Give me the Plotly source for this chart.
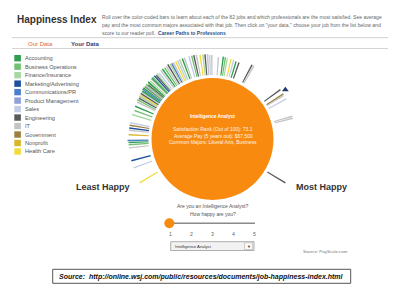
import plotly.graph_objects as go

# ---------------- data ----------------
sectors = ["Accounting", "Business Operations", "Finance/Insurance", "Marketing/Advertising",
           "Communications/PR", "Product Management", "Sales", "Engineering", "IT",
           "Government", "Nonprofit", "Health Care"]
sector_codes = ["ACC", "BO", "FI", "MKT", "COM", "PM", "SAL", "ENG", "IT", "GOV", "NP", "HC"]
sector_colors = ["#2e9e4f", "#72c172", "#a8d8a2", "#1c4f9c", "#4c7fc9", "#8ea2d8",
                 "#c3cce8", "#5a5a5a", "#c4c4c4", "#9b8040", "#d6b62a", "#f2dc3c"]

job_scores = [0.0, 4.5, 6.6, 10.3, 11.2, 11.8, 12.4, 14.0, 15.3, 15.9, 16.7, 17.4, 19.8, 21.1,
              22.3, 23.6, 24.2, 24.8, 25.2, 25.5, 25.8, 26.2, 26.7, 26.9, 27.1, 27.5, 27.9, 28.3,
              28.5, 28.7, 29.1, 29.5, 29.8, 30.0, 30.6, 31.2, 31.5, 31.8, 32.4, 32.9, 33.3, 33.9,
              34.7, 35.3, 36.0, 36.6, 37.2, 37.8, 38.3, 38.8, 39.5, 40.1, 40.7, 41.5, 42.1, 43.4,
              44.2, 44.8, 45.5, 46.5, 47.3, 47.9, 48.6, 49.2, 49.8, 51.7, 53.1, 53.7, 54.3, 55.4,
              56.2, 57.0, 57.9, 61.6, 62.2, 72.3, 73.8, 74.2, 75.4, 80.6, 81.2, 100.0]
job_sectors = ["HC", "SAL", "MKT", "IT", "BO", "ACC", "COM", "NP", "IT", "MKT", "GOV", "SAL",
               "FI", "BO", "ACC", "IT", "BO", "ENG", "FI", "IT", "HC", "ENG", "SAL", "BO",
               "ACC", "COM", "ACC", "FI", "ENG", "IT", "BO", "ENG", "FI", "ACC", "FI", "IT",
               "ACC", "BO", "MKT", "ENG", "FI", "SAL", "IT", "ACC", "BO", "IT", "ENG", "FI",
               "COM", "IT", "HC", "SAL", "FI", "ACC", "IT", "SAL", "BO", "ENG", "IT", "HC",
               "FI", "ENG", "IT", "SAL", "IT", "IT", "ACC", "BO", "FI", "HC", "SAL", "ACC",
               "ENG", "ENG", "IT", "ENG", "GOV", "IT", "SAL", "IT", "IT", "ENG"]
bar_len = [21, 20, 20, 20, 20, 20, 21, 20, 20, 20, 20, 20, 20, 19, 20, 20, 21, 20, 21, 21,
           20, 21, 21, 21, 21, 22, 22, 22, 21, 21, 22, 20, 21, 22, 21, 22, 22, 22, 22, 21,
           22, 21, 22, 22, 22, 22, 23, 22, 22, 22, 22, 22, 22, 22, 22, 22, 22, 22, 22, 21,
           21, 21, 21, 20, 20, 18, 19, 19, 18, 18, 18, 17, 17, 20, 20, 20, 20, 19, 20, 19,
           19, 21]

selected_job = "Intelligence Analyst"
selected_score = 73.1
selected_pay = "$67,500"
selected_majors = "Liberal Arts, Business"
slider_ticks = ["1", "2", "3", "4", "5"]

# ---------------- geometry / style ----------------
W, H = 400, 300
CX, CY = 212.5, 139.0
R_POLAR = 90
R_CIRCLE = 61
BAR_BASE = 64
DEG_PER_POINT = 2.42
FONT = "Liberation Sans, Arial, sans-serif"
ORANGE = "#F88A10"


def px(x):
    return x / W


def py(y):
    return 1 - y / H


color_map = dict(zip(sector_codes, sector_colors))

fig = go.Figure()
fig.add_trace(go.Barpolar(
    r=bar_len,
    theta=[s * DEG_PER_POINT for s in job_scores],
    base=BAR_BASE,
    width=1.0,
    marker=dict(color=[color_map[s] for s in job_sectors], line=dict(width=0)),
    hoverinfo="skip", showlegend=False,
))
fig.add_trace(go.Scatterpolar(
    r=[88], theta=[selected_score * DEG_PER_POINT], mode="markers",
    marker=dict(symbol="triangle-up", size=6, color="#1f3a6e"),
    hoverinfo="skip", showlegend=False,
))

shapes = []
annotations = []

# big orange circle
shapes.append(dict(type="circle", xref="paper", yref="paper",
                   x0=px(CX - R_CIRCLE), x1=px(CX + R_CIRCLE),
                   y0=py(CY + R_CIRCLE), y1=py(CY - R_CIRCLE),
                   fillcolor=ORANGE, line=dict(width=0), layer="above"))

# header
annotations.append(dict(x=px(15), y=py(19), text="<b>Happiness Index</b>", showarrow=False,
                        xanchor="left", yanchor="middle", font=dict(family=FONT, size=10, color="#333")))
desc = ["Roll over the color-coded bars to learn about each of the 82 jobs and which professionals are the most satisfied. See average",
        "pay and the most common majors associated with that job. Then click on \"your data,\" choose your job from the list below and",
        "score to our reader poll.  <b><span style='color:#1d4e89'>Career Paths to Professions</span></b>"]
for i, line in enumerate(desc):
    annotations.append(dict(x=px(100), y=py(17.3 + i * 7.6), text=line, showarrow=False,
                            xanchor="left", yanchor="middle", font=dict(family=FONT, size=5.05, color="#666")))

shapes.append(dict(type="line", xref="paper", yref="paper", x0=px(12), x1=px(388), y0=py(37.7), y1=py(37.7),
                   line=dict(color="#cfcfcf", width=1)))
shapes.append(dict(type="line", xref="paper", yref="paper", x0=px(12), x1=px(388), y0=py(48.5), y1=py(48.5),
                   line=dict(color="#d5d5d5", width=1)))
annotations.append(dict(x=px(40), y=py(43.5), text="Our Data", showarrow=False, xanchor="center", yanchor="middle",
                        font=dict(family=FONT, size=6, color="#e0662a")))
annotations.append(dict(x=px(85), y=py(43.5), text="<b>Your Data</b>", showarrow=False, xanchor="center",
                        yanchor="middle", font=dict(family=FONT, size=6, color="#1d3f7a")))

# legend
for i, (name, col) in enumerate(zip(sectors, sector_colors)):
    yc = 58.2 + i * 8.48
    shapes.append(dict(type="rect", xref="paper", yref="paper", x0=px(14.3), x1=px(20.9),
                       y0=py(yc + 3.2), y1=py(yc - 3.2), fillcolor=col, line=dict(width=0)))
    annotations.append(dict(x=px(23), y=py(yc), text=name, showarrow=False, xanchor="left", yanchor="middle",
                            font=dict(family=FONT, size=5.6, color="#555")))

# happy labels
annotations.append(dict(x=px(103.5), y=py(187), text="<b>Least Happy</b>", showarrow=False,
                        xanchor="center", yanchor="middle", font=dict(family=FONT, size=9, color="#333")))
annotations.append(dict(x=px(321), y=py(187.3), text="<b>Most Happy</b>", showarrow=False,
                        xanchor="center", yanchor="middle", font=dict(family=FONT, size=9, color="#333")))

# circle text
annotations.append(dict(x=px(212.5), y=py(116.7), text="<b>" + selected_job + "</b>", showarrow=False,
                        xanchor="center", yanchor="middle", font=dict(family=FONT, size=4.8, color="white")))
circle_lines = ["Satisfaction Rank (Out of 100): %.1f" % selected_score,
                "Average Pay (5 years out): " + selected_pay,
                "Common Majors: " + selected_majors]
for i, t in enumerate(circle_lines):
    annotations.append(dict(x=px(213), y=py(129.3 + i * 6.5), text=t, showarrow=False,
                            xanchor="center", yanchor="middle", font=dict(family=FONT, size=5, color="#fff3e0")))

# poll widget
annotations.append(dict(x=px(212.3), y=py(206), text="Are you an " + selected_job + "?", showarrow=False,
                        xanchor="center", yanchor="middle", font=dict(family=FONT, size=5, color="#555")))
annotations.append(dict(x=px(212.5), y=py(214.3), text="How happy are you?", showarrow=False,
                        xanchor="center", yanchor="middle", font=dict(family=FONT, size=5, color="#555")))
shapes.append(dict(type="line", xref="paper", yref="paper", x0=px(165), x1=px(255), y0=py(223.3), y1=py(223.3),
                   line=dict(color="#8a8a8a", width=1.5)))
shapes.append(dict(type="circle", xref="paper", yref="paper", x0=px(164.3), x1=px(174.3), y0=py(228.3),
                   y1=py(218.3), fillcolor=ORANGE, line=dict(width=0)))
for i, t in enumerate(slider_ticks):
    annotations.append(dict(x=px(170.7 + i * 21.07), y=py(234), text=t, showarrow=False,
                            xanchor="center", yanchor="middle", font=dict(family=FONT, size=5.2, color="#666")))
shapes.append(dict(type="rect", xref="paper", yref="paper", x0=px(170.7), x1=px(254), y0=py(250.5), y1=py(241.7),
                   fillcolor="#f2f2f2", line=dict(color="#9a9a9a", width=0.8)))
shapes.append(dict(type="rect", xref="paper", yref="paper", x0=px(244.5), x1=px(252.5), y0=py(249.5), y1=py(242.7),
                   fillcolor="#fafafa", line=dict(color="#b0b0b0", width=0.6)))
annotations.append(dict(x=px(173), y=py(246.1), text=selected_job, showarrow=False, xanchor="left",
                        yanchor="middle", font=dict(family=FONT, size=4.2, color="#333")))
annotations.append(dict(x=px(248.5), y=py(246.1), text="▼", showarrow=False, xanchor="center",
                        yanchor="middle", font=dict(family=FONT, size=4, color="#333")))
annotations.append(dict(x=px(325), y=py(251), text="Source: PayScale.com", showarrow=False, xanchor="center",
                        yanchor="middle", font=dict(family=FONT, size=4.4, color="#777")))

# bottom source box
shapes.append(dict(type="rect", xref="paper", yref="paper", x0=px(52.7), x1=px(350.7), y0=py(283.3), y1=py(269.3),
                   fillcolor="white", line=dict(color="#555", width=1)))
annotations.append(dict(x=px(201.7), y=py(276.5),
                        text="<b><i>Source:  http://online.wsj.com/public/resources/documents/job-happiness-index.html</i></b>",
                        showarrow=False, xanchor="center", yanchor="middle",
                        font=dict(family=FONT, size=7, color="#111")))

fig.update_layout(
    width=W, height=H, margin=dict(l=0, r=0, t=0, b=0),
    paper_bgcolor="white", plot_bgcolor="white",
    polar=dict(
        domain=dict(x=[px(CX - R_POLAR), px(CX + R_POLAR)], y=[py(CY + R_POLAR), py(CY - R_POLAR)]),
        bgcolor="rgba(0,0,0,0)", bargap=0,
        radialaxis=dict(visible=False, range=[0, R_POLAR]),
        angularaxis=dict(visible=False, rotation=211, direction="clockwise"),
    ),
    shapes=shapes, annotations=annotations, showlegend=False,
)

fig.write_html("out.html")
